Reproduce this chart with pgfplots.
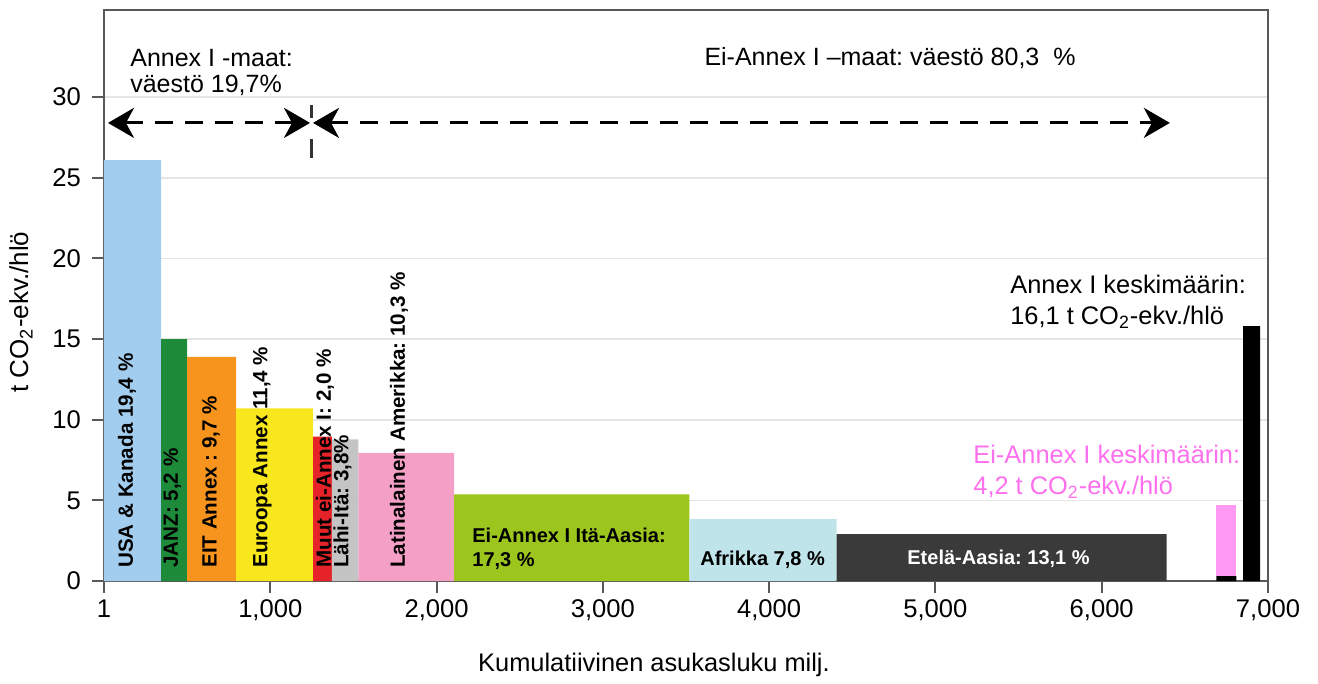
\documentclass[border=0pt]{standalone}
\usepackage{fontspec}
\setmainfont{Liberation Sans}
\usepackage{pgfplots}
\pgfplotsset{compat=1.18}
\usetikzlibrary{arrows.meta}
\frenchspacing
\definecolor{cUSA}{HTML}{A3CDEF}
\definecolor{cJANZ}{HTML}{1E8B3B}
\definecolor{cEIT}{HTML}{F7941D}
\definecolor{cEUR}{HTML}{F8E71C}
\definecolor{cMUUT}{HTML}{E52328}
\definecolor{cLAHI}{HTML}{C4C4C4}
\definecolor{cLAT}{HTML}{F4A0C6}
\definecolor{cEAS}{HTML}{9CC51E}
\definecolor{cAFR}{HTML}{BFE4EA}
\definecolor{cSAS}{HTML}{3A3A3A}
\definecolor{cAVG}{HTML}{FF99F4}
\definecolor{cAVGT}{HTML}{FF70EE}
\begin{document}
\begin{tikzpicture}
\path (-52pt,-51pt) rectangle (607pt,290.5pt);
\begin{axis}[
  scale only axis, width=582pt, height=285.5pt,
  xmin=0, xmax=7000, ymin=0, ymax=35.4,
  clip=false,
  axis line style={draw=black!65, line width=0.9pt},
  tick pos=left, tick align=outside,
  major tick length=6pt,
  tick style={black!65, line width=1pt},
  xtick={0,1000,...,7000},
  xticklabels={1,{1,000},{2,000},{3,000},{4,000},{5,000},{6,000},{7,000}},
  ytick={0,5,...,30},
  ymajorgrids, grid style={black!10, line width=0.8pt},
  tick label style={font=\fontsize{12.8}{15}\selectfont},
  yticklabel style={xshift=-2pt},
  /pgf/number format/assume math mode=true,
  xlabel={Kumulatiivinen asukasluku milj.},
  ylabel={t CO\textsubscript{2}-ekv./hlö},
  xlabel style={font=\fontsize{12.7}{15}\selectfont, at={(axis description cs:0.4725,-0.147)}, anchor=center},
  ylabel style={font=\fontsize{13}{15}\selectfont, at={(axis description cs:-0.0713,0.471)}, anchor=center},
]
% bars: (x0,0) (x0,h) (x1,h) (x1,0)
\addplot[fill=cUSA, draw=none] coordinates {(0,0) (0,26.1) (343,26.1) (343,0)} \closedcycle;
\addplot[fill=cJANZ, draw=none] coordinates {(343,0) (343,15.0) (500,15.0) (500,0)} \closedcycle;
\addplot[fill=cEIT, draw=none] coordinates {(500,0) (500,13.9) (794,13.9) (794,0)} \closedcycle;
\addplot[fill=cEUR, draw=none] coordinates {(794,0) (794,10.7) (1258,10.7) (1258,0)} \closedcycle;
\addplot[fill=cMUUT, draw=none] coordinates {(1258,0) (1258,8.95) (1370,8.95) (1370,0)} \closedcycle;
\addplot[fill=cLAHI, draw=none] coordinates {(1370,0) (1370,8.78) (1530,8.78) (1530,0)} \closedcycle;
\addplot[fill=cLAT, draw=none] coordinates {(1530,0) (1530,7.95) (2105,7.95) (2105,0)} \closedcycle;
\addplot[fill=cEAS, draw=none] coordinates {(2105,0) (2105,5.37) (3520,5.37) (3520,0)} \closedcycle;
\addplot[fill=cAFR, draw=none] coordinates {(3520,0) (3520,3.83) (4406,3.83) (4406,0)} \closedcycle;
\addplot[fill=cSAS, draw=none] coordinates {(4406,0) (4406,2.9) (6390,2.9) (6390,0)} \closedcycle;
\addplot[fill=black, draw=none] coordinates {(6690,0) (6690,0.3) (6810,0.3) (6810,0)} \closedcycle;
\addplot[fill=cAVG, draw=none] coordinates {(6690,0.3) (6690,4.69) (6810,4.69) (6810,0.3)} -- cycle;
\addplot[fill=black, draw=none] coordinates {(6851,0) (6851,15.8) (6952,15.8) (6952,0)} \closedcycle;

% rotated bar labels
\begin{scope}[every node/.style={rotate=90, anchor=west, font=\bfseries\fontsize{10.3}{12}\selectfont, inner sep=0pt}]
\node at (axis cs:138,0.8) {USA \& Kanada 19,4 \%};
\node at (axis cs:411,0.8) {JANZ: 5,2 \%};
\node at (axis cs:643,0.8) {EIT Annex : 9,7 \%};
\node at (axis cs:952,0.8) {Euroopa Annex 11,4 \%};
\node at (axis cs:1329,0.8) {Muut ei-Annex I: 2,0 \%};
\node at (axis cs:1435,0.8) {Lähi-Itä: 3,8\%};
\node at (axis cs:1774,0.8) {Latinalainen Amerikka: 10,3 \%};
\end{scope}
% horizontal bar labels
\node[anchor=west, align=left, inner sep=0pt, font=\bfseries\fontsize{10}{12}\selectfont] at (axis cs:2213,2.0) {Ei-Annex I Itä-Aasia:\\17,3 \%};
\node[anchor=west, inner sep=0pt, font=\bfseries\fontsize{10}{12}\selectfont] at (axis cs:3584,1.3) {Afrikka 7,8 \%};
\node[anchor=west, inner sep=0pt, text=white, font=\bfseries\fontsize{10}{12}\selectfont] at (axis cs:4829,1.4) {Etelä-Aasia: 13,1 \%};

% population annotations
\node[anchor=west, align=left, inner sep=0pt, font=\fontsize{12.5}{13}\selectfont] at (axis cs:156,31.5) {Annex I -maat:\\väestö 19,7\%};
\node[inner sep=0pt, font=\fontsize{12.5}{15}\selectfont] at (axis cs:4727,32.4) {Ei-Annex I –maat: väestö 80,3~~\%};
\draw[black, line width=1.5pt, dash pattern=on 9pt off 6pt,
  {Stealth[length=13pt,width=15pt,inset=4pt]}-{Stealth[length=13pt,width=15pt,inset=4pt]}]
  (axis cs:24,28.4) -- (axis cs:1239,28.4);
\draw[black, line width=1.5pt, dash pattern=on 9pt off 6pt,
  {Stealth[length=13pt,width=15pt,inset=4pt]}-{Stealth[length=13pt,width=15pt,inset=4pt]}]
  (axis cs:1257,28.4) -- (axis cs:6410,28.4);
\draw[black!80, line width=1.5pt] (axis cs:1245,29.5) -- (axis cs:1245,28.7);
\draw[black!80, line width=1.5pt] (axis cs:1245,27.4) -- (axis cs:1245,26.2);

% averages
\node[anchor=west, align=left, inner sep=0pt, font=\fontsize{12.7}{15.5}\selectfont] at (axis cs:5448,17.3) {Annex I keskimäärin:\\16,1 t CO\textsubscript{2}-ekv./hlö};
\node[anchor=west, align=left, inner sep=0pt, text=cAVGT, font=\fontsize{12.7}{15.5}\selectfont] at (axis cs:5226,6.76) {Ei-Annex I keskimäärin:\\4,2 t CO\textsubscript{2}-ekv./hlö};
\end{axis}
\end{tikzpicture}
\end{document}
